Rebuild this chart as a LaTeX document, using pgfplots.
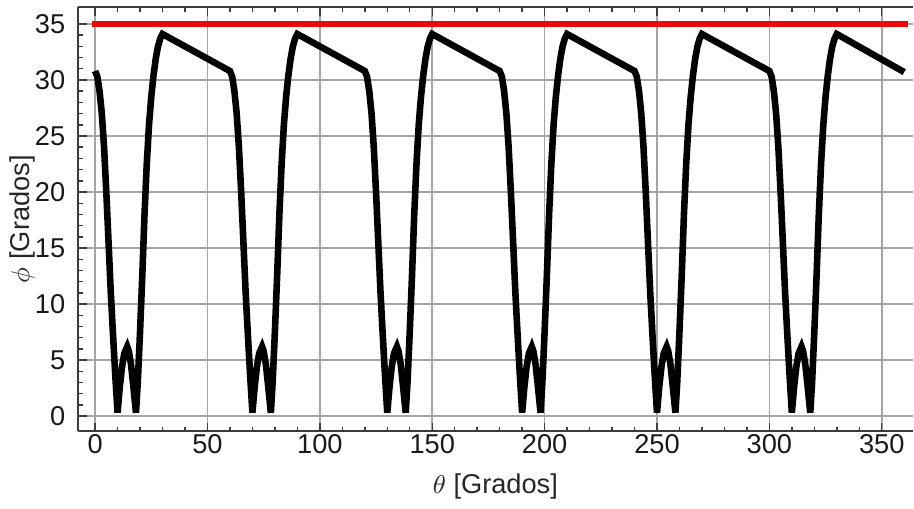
\documentclass[border=0pt]{standalone}
\usepackage{pgfplots}
\pgfplotsset{compat=1.18}
\usepackage{fontspec}
\setmainfont{Liberation Sans}
\definecolor{gridgray}{RGB}{165,165,165}
\definecolor{framegray}{RGB}{60,60,60}
\definecolor{myred}{RGB}{235,10,10}
\begin{document}
\begin{tikzpicture}
\begin{axis}[
  name=ax,
  scale only axis, width=291.2pt, height=148pt,
  xmin=-7.5, xmax=363.7, ymin=-1.35, ymax=36.5,
  axis x line*=box, axis y line*=left,
  x axis line style={-, framegray, line width=0.6pt},
  y axis line style={-, framegray, line width=0.6pt},
  xtick={0,50,...,350}, ytick={0,5,...,35},
  minor x tick num=4, minor y tick num=4,
  xtick pos=both, ytick pos=left,
  tick align=inside,
  major tick length=3pt, minor tick length=1.6pt,
  tick style={framegray, line width=0.5pt},
  grid=major, major grid style={gridgray, line width=0.6pt},
  /pgf/number format/assume math mode=true,
  tick label style={font=\fontsize{9.5}{11}\selectfont, text=black!90},
  xticklabel style={yshift=2.3pt},
  yticklabel style={xshift=-1pt},
  xticklabel pos=lower,
  label style={font=\fontsize{9.5}{11}\selectfont, text=black!85},
  xlabel={$\theta$ [Grados]},
  ylabel={$\phi$ [Grados]},
  xlabel style={at={(axis description cs:0.5,0)}, anchor=center, yshift=-19.3pt},
  ylabel style={at={(axis description cs:0,0.5)}, anchor=center, yshift=19.5pt},
]
\addplot[myred, line width=2.3pt, line cap=rect] coordinates {(0,35) (360,35)};
\addplot[black, line width=2.3pt] coordinates {
(0,30.8)(1,30.3)(2,29.0)(3,27.0)(4,24.0)(5,20.0)(6,15.5)(7,11.0)(8,7.2)(9,3.6)(10,0.3)
(11,2.6)(12,4.4)(13,5.6)(14.3,6.2)(15,5.8)(16,4.6)(17,2.7)(18.2,0.3)
(19,3.0)(20,7.5)(21,12.5)(22,18.0)(23,22.5)(24,26.0)(25,28.5)(26,30.4)(27,31.9)(28,33.0)(29,33.7)(30,34.1)
(60,30.8)(61,30.3)(62,29.0)(63,27.0)(64,24.0)(65,20.0)(66,15.5)(67,11.0)(68,7.2)(69,3.6)(70,0.3)
(71,2.6)(72,4.4)(73,5.6)(74.3,6.2)(75,5.8)(76,4.6)(77,2.7)(78.2,0.3)
(79,3.0)(80,7.5)(81,12.5)(82,18.0)(83,22.5)(84,26.0)(85,28.5)(86,30.4)(87,31.9)(88,33.0)(89,33.7)(90,34.1)
(120,30.8)(121,30.3)(122,29.0)(123,27.0)(124,24.0)(125,20.0)(126,15.5)(127,11.0)(128,7.2)(129,3.6)(130,0.3)
(131,2.6)(132,4.4)(133,5.6)(134.3,6.2)(135,5.8)(136,4.6)(137,2.7)(138.2,0.3)
(139,3.0)(140,7.5)(141,12.5)(142,18.0)(143,22.5)(144,26.0)(145,28.5)(146,30.4)(147,31.9)(148,33.0)(149,33.7)(150,34.1)
(180,30.8)(181,30.3)(182,29.0)(183,27.0)(184,24.0)(185,20.0)(186,15.5)(187,11.0)(188,7.2)(189,3.6)(190,0.3)
(191,2.6)(192,4.4)(193,5.6)(194.3,6.2)(195,5.8)(196,4.6)(197,2.7)(198.2,0.3)
(199,3.0)(200,7.5)(201,12.5)(202,18.0)(203,22.5)(204,26.0)(205,28.5)(206,30.4)(207,31.9)(208,33.0)(209,33.7)(210,34.1)
(240,30.8)(241,30.3)(242,29.0)(243,27.0)(244,24.0)(245,20.0)(246,15.5)(247,11.0)(248,7.2)(249,3.6)(250,0.3)
(251,2.6)(252,4.4)(253,5.6)(254.3,6.2)(255,5.8)(256,4.6)(257,2.7)(258.2,0.3)
(259,3.0)(260,7.5)(261,12.5)(262,18.0)(263,22.5)(264,26.0)(265,28.5)(266,30.4)(267,31.9)(268,33.0)(269,33.7)(270,34.1)
(300,30.8)(301,30.3)(302,29.0)(303,27.0)(304,24.0)(305,20.0)(306,15.5)(307,11.0)(308,7.2)(309,3.6)(310,0.3)
(311,2.6)(312,4.4)(313,5.6)(314.3,6.2)(315,5.8)(316,4.6)(317,2.7)(318.2,0.3)
(319,3.0)(320,7.5)(321,12.5)(322,18.0)(323,22.5)(324,26.0)(325,28.5)(326,30.4)(327,31.9)(328,33.0)(329,33.7)(330,34.1)
(360,30.7)};
\end{axis}
\path[use as bounding box] ([xshift=-27.3pt,yshift=-24.5pt]ax.south west) rectangle ([yshift=2.5pt]ax.north east);
\end{tikzpicture}
\end{document}
